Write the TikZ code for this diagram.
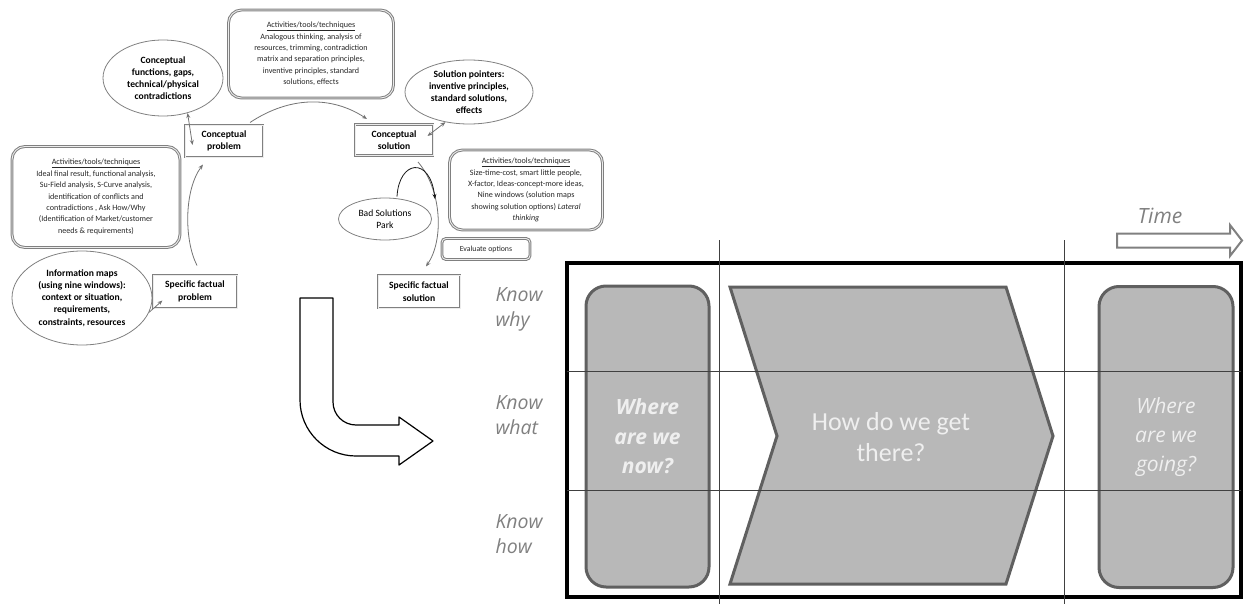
\documentclass[tikz,border=0pt]{standalone}
\usepackage{fontspec}
\setmainfont{Carlito}
\newfontfamily\opensans{Open Sans}
\usetikzlibrary{arrows.meta,shapes.geometric,calc}

\definecolor{panelfill}{HTML}{B8B8B8}
\definecolor{paneledge}{HTML}{606060}
\definecolor{labelgray}{HTML}{808080}
\definecolor{paletext}{HTML}{EFEFEF}
\definecolor{framegray}{HTML}{808080}

\begin{document}
\begin{tikzpicture}[x=1pt,y=-1pt,
  framebox/.style={draw=framegray, double=gray!15, double distance=0.9pt, line width=1pt,
    inner sep=0pt, align=center},
  stagebox/.style={framebox, font=\fontsize{9.6}{12.5}\selectfont\bfseries},
  actbox/.style={framebox, rounded corners=13pt, text=black!85,
    font=\fontsize{8.1}{11.4}\selectfont},
  idea/.style={ellipse, draw=framegray, line width=0.8pt, inner sep=0pt, align=center,
    font=\fontsize{9.6}{12.2}\selectfont\bfseries},
  flow/.style={draw=black!55, line width=0.8pt, -{Stealth[length=5pt,width=4pt]}},
  twoway/.style={draw=black!55, line width=0.8pt, {Stealth[length=5pt,width=4pt]}-{Stealth[length=5pt,width=4pt]}},
  stage/.style={draw=paneledge, fill=panelfill, line width=3pt, rounded corners=20pt,
    minimum width=123pt, minimum height=301pt, inner sep=0pt, align=center, text=paletext},
  knowlabel/.style={anchor=west, align=left, text=labelgray,
    font=\opensans\itshape\fontsize{19.5}{25}\selectfont},
  grid/.style={draw=black!75, line width=0.9pt}
]
\useasboundingbox (0,0) rectangle (1244,604);

% ---------------- problem-solving cycle ----------------
\node[actbox, minimum width=165pt, minimum height=88pt] (acttop) at (311,54)
  {\underline{Activities/tools/techniques}\\Analogous thinking, analysis of\\resources, trimming, contradiction\\matrix and separation principles,\\inventive principles, standard\\solutions, effects};
\node[actbox, minimum width=168pt, minimum height=101pt] (actleft) at (96,197)
  {\underline{Activities/tools/techniques}\\Ideal final result, functional analysis,\\Su-Field analysis, S-Curve analysis,\\identification of conflicts and\\contradictions , Ask How/Why\\(Identification of Market/customer\\needs \& requirements)};
\node[actbox, minimum width=153pt, minimum height=80pt] (actright) at (526,190)
  {\underline{Activities/tools/techniques}\\Size-time-cost, smart little people,\\X-factor, Ideas-concept-more ideas,\\Nine windows (solution maps\\showing solution options) \textit{Lateral}\\\textit{thinking}};
\node[framebox, rounded corners=4pt, minimum width=88pt, minimum height=21pt,
  font=\fontsize{7.8}{10}\selectfont, text=black!85] (evalopt) at (486,249) {Evaluate options};

\node[stagebox, minimum width=78pt, minimum height=32pt] (cprob) at (224,141) {Conceptual\\problem};
\node[stagebox, minimum width=78pt, minimum height=31pt] (csol) at (394,140) {Conceptual\\solution};
\node[stagebox, minimum width=84pt, minimum height=33pt] (sfprob) at (195,291.5) {Specific factual\\problem};
\node[stagebox, minimum width=82pt, minimum height=33pt] (sfsol) at (419,291.5) {Specific factual\\solution};

\node[idea, minimum width=120pt, minimum height=76pt] (cfun) at (163,78)
  {Conceptual\\functions, gaps,\\technical/physical\\contradictions};
\node[idea, minimum width=128pt, minimum height=64pt] (solp) at (469,92)
  {Solution pointers:\\inventive principles,\\standard solutions,\\effects};
\node[idea, minimum width=93pt, minimum height=42pt, font=\fontsize{9.6}{12.2}\selectfont] (bsp) at (385,219)
  {Bad Solutions\\Park};
\node[idea, minimum width=140pt, minimum height=94pt] (infomap) at (82,298)
  {Information maps\\(using nine windows):\\context or situation,\\requirements,\\constraints, resources};

\coordinate (bspend) at (435,199);

\draw[flow] ($(sfprob.north)+(2,-9)$) .. controls (184,240) and (184,190) .. ($(cprob.south)+(-21,7)$);
\draw[flow] ($(cprob.north)+(26,-2)$) .. controls (290,96) and (332,96) .. ($(csol.north)+(-27,-5)$);
\draw[flow] ($(csol.south)+(24,6)$) .. controls (442,190) and (444,240) .. ($(sfsol.north)+(7,-8)$);
\draw[draw=black!90, line width=0.8pt, -{Stealth[length=5pt,width=4pt]}]
  ($(bsp.north)+(12,-1)$) .. controls (399,160) and (430,156) .. (bspend);
\draw[twoway] (cfun.-55) -- ($(cprob.west)+(8,4)$);
\draw[twoway] (solp.-128) -- ($(csol.east)+(-6,-4)$);
\draw[flow] (infomap.-12) -- ($(sfprob.west)+(10,9)$);

% hollow bent arrow leading to the matrix
\draw[line width=1.2pt, line join=round]
  (300,298) -- (300,400) arc[start angle=180, end angle=90, radius=56]
  -- (399,456) -- (399,465) -- (433,441) -- (399,417) -- (399,425) -- (356,425)
  arc[start angle=90, end angle=180, radius=23] -- (333,298) -- cycle;

% ---------------- knowledge / time matrix ----------------
\node[stage, font=\opensans\bfseries\itshape\fontsize{21}{29.5}\selectfont] (now) at (647.5,436.5)
  {Where\\are we\\now?};
\node[stage, minimum width=134pt, font=\opensans\itshape\fontsize{21}{29}\selectfont] (going) at (1166,437)
  {Where\\are we\\going?};
\draw[draw=paneledge, fill=panelfill, line width=3pt, line join=miter]
  (730,287) -- (1006,287) -- (1053,436) -- (1006,584) -- (730,584) -- (777,436) -- cycle;
\node[text=paletext, align=center, font=\fontsize{26}{31}\selectfont] (howget) at (891,437)
  {How do we get\\there?};

\draw[line width=3.5pt] (567,263) rectangle (1241,597);
\draw[grid] (567,371) -- (1241,371);
\draw[grid] (567,490) -- (1241,490);
\draw[grid] (719,240) -- (719,604);
\draw[grid] (1064,240) -- (1064,604);

\node[knowlabel] (why) at (492,309.5) {Know\\why};
\node[knowlabel] (what) at (492,415.5) {Know\\what};
\node[knowlabel] (how) at (492,534.5) {Know\\how};

\node[text=labelgray, font=\opensans\itshape\fontsize{21}{25}\selectfont] (timelbl) at (1160,216) {Time};
\draw[draw=labelgray, line width=2pt, line join=miter]
  (1117,233.5) -- (1230,233.5) -- (1230,225) -- (1242,240.5) -- (1230,256) -- (1230,247.5)
  -- (1117,247.5) -- cycle;
\end{tikzpicture}
\end{document}
